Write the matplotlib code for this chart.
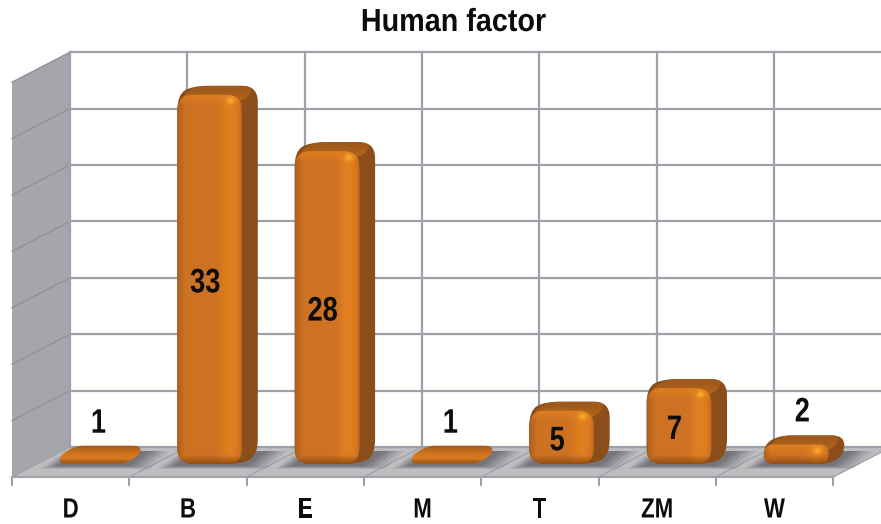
import numpy as np
import matplotlib
matplotlib.use('Agg')
import matplotlib.pyplot as plt
from matplotlib.path import Path
from matplotlib.patches import PathPatch, Polygon
from matplotlib.patheffects import AbstractPathEffect
from matplotlib.transforms import Affine2D
from matplotlib.colors import to_rgb

categories = ['D', 'B', 'E', 'M', 'T', 'ZM', 'W']
values = [1, 33, 28, 1, 5, 7, 2]
y_ticks = [0, 5, 10, 15, 20, 25, 30, 35]

# chart frame, in pixels of the 881x524 picture
W, H = 881, 524
X0, Y0 = 12, 477       # front left corner of the floor
STEP = 117.3           # px per category
UNIT = 11.28           # px per value unit
DEPTH_X, DEPTH_Y = 58, 30

GRID = '#9da1aa'
WALL = '#a4a6ab'
FLOOR = '#bebdc0'
INK = '#0c0c0c'


def px_x(p):
    return (p - X0) / STEP - 0.5


def px_y(p):
    return (Y0 - p) / UNIT


def to_data(pts):
    return [(px_x(x), px_y(y)) for x, y in pts]


class Narrow(AbstractPathEffect):
    # squeezes the glyphs sideways, there is no narrow bold font installed
    def __init__(self, cx, sx):
        self.cx = cx
        self.sx = sx

    def draw_path(self, renderer, gc, tpath, affine, rgbFace=None):
        squeeze = Affine2D().translate(-self.cx, 0).scale(self.sx, 1).translate(self.cx, 0)
        renderer.draw_path(gc, tpath, affine + squeeze, rgbFace)


def label(ax, x, y, s, size, sx, z=8):
    ax.text(px_x(x), px_y(y), s, ha='center', va='center', fontsize=size, fontweight='bold',
            color=INK, zorder=z, path_effects=[Narrow(x, sx)])


def rounded(pts, r):
    # closed polygon with rounded corners, pts given in pixels
    verts, codes = [], []
    n = len(pts)
    for k in range(n):
        p = np.array(pts[k], float)
        a = np.array(pts[k - 1], float)
        b = np.array(pts[(k + 1) % n], float)
        ra = min(r, np.linalg.norm(a - p) / 2)
        rb = min(r, np.linalg.norm(b - p) / 2)
        s = p + (a - p) / np.linalg.norm(a - p) * ra
        e = p + (b - p) / np.linalg.norm(b - p) * rb
        verts.append(s)
        codes.append(Path.MOVETO if k == 0 else Path.LINETO)
        verts += [p, e]
        codes += [Path.CURVE3, Path.CURVE3]
    verts.append(verts[0])
    codes.append(Path.CLOSEPOLY)
    return Path(to_data(verts), codes)


def gradient(ax, path, extent, rgb, z):
    # extent is left, right, bottom, top in pixels
    patch = PathPatch(path, fc='none', ec='none', zorder=z)
    ax.add_patch(patch)
    l, r, b, t = extent
    im = ax.imshow(rgb, extent=(px_x(l), px_x(r), px_y(b), px_y(t)), origin='upper',
                   aspect='auto', interpolation='bilinear', zorder=z)
    im.set_clip_path(patch)


def front_shading(w, h):
    nx, ny = int(w) + 1, int(h) + 1
    xs = np.linspace(0, w, nx)
    ys = np.linspace(0, h, ny)
    base = np.array(to_rgb('#cd7223'))
    light = np.array(to_rgb('#e27f20'))
    dark = np.array(to_rgb('#8f4c14'))
    img = np.ones((ny, nx, 3)) * base
    # brighter strip near the right edge
    strip = np.exp(-((xs - (w - 12)) / 9.0) ** 2)
    img = img + (light - base) * strip[None, :, None]
    # rounded edges go darker
    left = np.clip(1 - xs / 8.0, 0, 1) * 0.5
    right = np.clip(1 - (w - xs) / 3.0, 0, 1) * 0.35
    bottom = np.clip(1 - (h - ys) / 9.0, 0, 1) * 0.9
    shade = np.maximum(left[None, :], right[None, :])
    shade = np.maximum(shade, bottom[:, None])
    img = img + (dark - img) * shade[:, :, None]
    # lighter bevel at the top and the small hot spot
    top = np.clip(1 - ys / 11.0, 0, 1) * 0.8
    img = img + (light - img) * top[:, None, None]
    spot = np.exp(-(((xs - (w - 11))[None, :] / 4.0) ** 2 + ((ys - 6)[:, None] / 3.5) ** 2))
    img = img + (np.array(to_rgb('#f9b52e')) - img) * (spot * 0.85)[:, :, None]
    return np.clip(img, 0, 1)


def draw_shadow(ax, L, R, dx):
    for grow, alpha in zip([18, 14, 10, 6, 2], [0.12, 0.16, 0.2, 0.24, 0.28]):
        shadow = [(L - 2 - grow, 466 + grow * 0.16), (L + 16 - grow * 0.6, 451),
                  (R + dx + 8 + grow * 1.2, 451), (R + 3 + grow * 1.2, 466 + grow * 0.16)]
        ax.add_patch(Polygon(to_data(shadow), fc='#55555c', ec='none', alpha=alpha, zorder=3))


def draw_bar(ax, i, value):
    w = 65
    dx = 15.5
    L = 60 + STEP * i
    R = L + w
    B = 464
    T = Y0 - 10 - value * UNIT
    h = B - T
    dy = 9 if h > 12 else 10

    draw_shadow(ax, L, R, dx)

    outline = [(L, B), (L, T), (L + dx, T - dy), (R + dx, T - dy), (R + dx, B - dy), (R, B)]

    if h <= 12:
        # very low bars are just one soft plate
        shades = ['#a55c1b', '#c26b1f', '#d2761f', '#d87a20', '#a45a18']
        img = np.array([to_rgb(c) for c in shades])[:, None, :]
        gradient(ax, rounded(outline, 8), (L, R + dx, B, T - dy), img, 5)
        return

    r = min(16, h / 2 + 2)
    # whole silhouette gives the side face
    ax.add_patch(PathPatch(rounded(outline, r), fc='#8b4e1b', ec='none', zorder=4))

    # top face
    top_pts = [(L, T + 8), (L + dx, T - dy), (R + dx - 2, T - dy), (R + 1, T + 8)]
    top_img = np.array([to_rgb('#a05a1b'), to_rgb('#b2641c')])[:, None, :]
    gradient(ax, rounded(top_pts, r), (L - 1, R + dx + 1, T + 8, T - dy), top_img, 5)

    # front face
    front = [(L, B), (L, T), (R, T), (R, B)]
    gradient(ax, rounded(front, min(r, h / 2)), (L, R, B, T), front_shading(w, h), 6)


plt.rcParams['font.family'] = ['Liberation Sans', 'DejaVu Sans']
fig = plt.figure(figsize=(W / 100, H / 100), dpi=100)
ax = fig.add_axes([0, 0, 1, 1])
ax.set_axis_off()

back_x = X0 + DEPTH_X
back_y = Y0 - DEPTH_Y

# left wall and floor
top_value = y_ticks[-1]
wall = [(X0, Y0), (back_x, back_y), (back_x, back_y - top_value * UNIT), (X0, Y0 - top_value * UNIT)]
ax.add_patch(Polygon(to_data(wall), fc=WALL, ec='none', zorder=1))
floor = [(X0, Y0), (back_x, back_y), (W, back_y), (W, back_y + 5), (X0 + 7 * STEP, Y0)]
ax.add_patch(Polygon(to_data(floor), fc=FLOOR, ec='none', zorder=1))

# grid lines on the walls
for v in y_ticks:
    y_back = back_y - v * UNIT
    y_front = Y0 - v * UNIT
    ax.plot([px_x(back_x), px_x(W)], [px_y(y_back)] * 2, color=GRID, lw=1.6, zorder=2,
            solid_capstyle='butt')
    if v > 0:
        ax.plot([px_x(X0), px_x(back_x)], [px_y(y_front), px_y(y_back)], color='#8f9299', lw=1.0, zorder=2)

for k in range(8):
    x_front = X0 + k * STEP
    x_back = x_front + DEPTH_X
    ax.plot([px_x(x_back)] * 2, [px_y(back_y), px_y(back_y - top_value * UNIT)], color=GRID, lw=1.6,
            zorder=2)
    ax.plot([px_x(x_front), px_x(x_back)], [px_y(Y0), px_y(back_y)], color='#a2a3a8', lw=1.0, zorder=2)
    ax.plot([px_x(x_front)] * 2, [px_y(Y0), px_y(Y0 + 8)], color='#8f9299', lw=1.3, zorder=2)

ax.plot([px_x(X0), px_x(X0 + 7 * STEP)], [px_y(Y0)] * 2, color='#a2a3a8', lw=1.5, zorder=2)

for i, v in enumerate(values):
    draw_bar(ax, i, v)

# value labels, inside the bar when it is tall enough
for i, v in enumerate(values):
    top = Y0 - 10 - v * UNIT
    cx = 92.5 + STEP * i
    if v >= 5:
        label(ax, cx - 4.5, (top + 464) / 2 + 4.5, str(v), 24.5, 0.8)
    else:
        label(ax, cx + 6, top - 31.5, str(v), 24.5, 0.8)

for i, c in enumerate(categories):
    label(ax, X0 + STEP * (i + 0.5), 510.5, c, 20, 0.8, z=3)

label(ax, 453.5, 23, 'Human factor', 23, 0.9)

ax.set_xlim(px_x(0), px_x(W))
ax.set_ylim(px_y(H), px_y(0))

fig.savefig('out.png', dpi=100)
